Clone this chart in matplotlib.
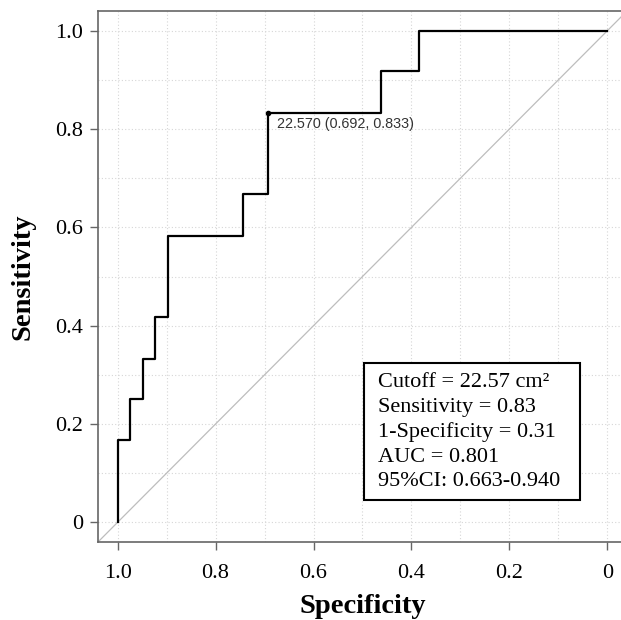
import matplotlib
matplotlib.use('Agg')
import matplotlib.pyplot as plt
from matplotlib.ticker import MultipleLocator
from matplotlib.patches import Rectangle

# ROC curve points (specificity, sensitivity)
specificity = [1.0, 1.0, 0.974, 0.949, 0.923, 0.897, 0.744, 0.692, 0.462, 0.385, 0.0]
sensitivity = [0.0, 0.167, 0.25, 0.333, 0.417, 0.583, 0.667, 0.833, 0.917, 1.0, 1.0]

# best threshold
cut_label = '22.570 (0.692, 0.833)'
cut_spec = 0.692
cut_sens = 0.833

tick_vals = [1.0, 0.8, 0.6, 0.4, 0.2, 0.0]
tick_labels = ['1.0', '0.8', '0.6', '0.4', '0.2', '0']
ytick_vals = [0.0, 0.2, 0.4, 0.6, 0.8, 1.0]
ytick_labels = ['0', '0.2', '0.4', '0.6', '0.8', '1.0']

info_lines = ['Cutoff = 22.57 cm²', 'Sensitivity = 0.83', '1-Specificity = 0.31',
              'AUC = 0.801', '95%CI: 0.663-0.940']

serif = 'Liberation Serif'
spine_col = '#666666'

fig = plt.figure(figsize=(6.21, 6.20), dpi=100)
ax = fig.add_axes([98 / 621, 78 / 620, 529 / 621, 531 / 620])

ax.set_xlim(1.04, -0.04)
ax.set_ylim(-0.04, 1.04)

# grid
ax.xaxis.set_minor_locator(MultipleLocator(0.1))
ax.yaxis.set_minor_locator(MultipleLocator(0.1))
ax.grid(which='both', color='#d6d6d6', linestyle=(0, (1, 2)), linewidth=0.8)
ax.tick_params(which='minor', length=0)
ax.set_axisbelow(True)

# diagonal reference
ax.plot([1.04, -0.04], [-0.04, 1.04], color='#bdbdbd', linewidth=0.9)

# ROC curve
ax.plot(specificity, sensitivity, drawstyle='steps-post', color='black', linewidth=1.6)
ax.plot([cut_spec], [cut_sens], 'o', color='black', markersize=3)
ax.annotate(cut_label, (cut_spec, cut_sens), xytext=(6, -3), textcoords='offset points',
            ha='left', va='top', fontsize=10.4, color='#333333', family='Liberation Sans')

ax.set_xticks(tick_vals)
ax.set_xticklabels(tick_labels, family=serif, fontsize=16)
ax.set_yticks(ytick_vals)
ax.set_yticklabels(ytick_labels, family=serif, fontsize=16)
ax.tick_params(which='major', length=5.5, width=1, color=spine_col, pad=5)
ax.tick_params(axis='x', which='major', pad=10)

for s in ['left', 'bottom', 'top']:
    ax.spines[s].set_color(spine_col)
    ax.spines[s].set_linewidth(1.2)
ax.spines['right'].set_visible(False)

ax.set_xlabel('Specificity', family=serif, fontsize=20.5, fontweight='bold', labelpad=8.5)
ax.set_ylabel('Sensitivity', family=serif, fontsize=20.5, fontweight='bold', labelpad=14.5)

# info box
ax.add_patch(Rectangle((0.503, 0.079), 0.408, 0.258, transform=ax.transAxes,
                       facecolor='white', edgecolor='black', linewidth=1.5, zorder=4))
ax.text(0.529, 0.2066, '\n'.join(info_lines), transform=ax.transAxes, family=serif,
        fontsize=16, ha='left', va='center', linespacing=1.39, zorder=5)

fig.savefig('out.png', dpi=100)
